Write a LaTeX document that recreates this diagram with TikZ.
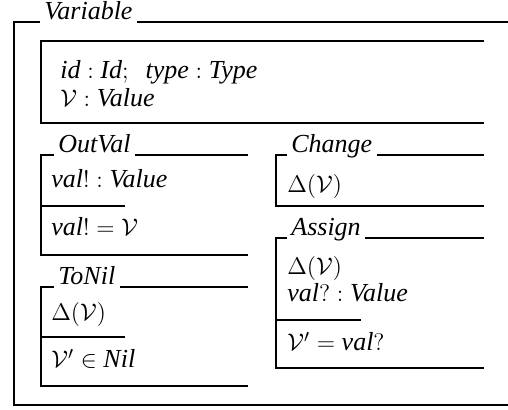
\documentclass[tikz,border=0pt]{standalone}
\usepackage[no-math]{fontspec}
\setmainfont{Liberation Serif}
\newcommand\zid[1]{\textit{#1}}
\begin{document}
\begin{tikzpicture}[x=0.5pt,y=-0.5pt,
  rule/.style={line width=1pt},
  ttl/.style={anchor=base west,inner xsep=2pt,inner ysep=0pt,font=\fontsize{13}{15}\selectfont\itshape},
  txt/.style={anchor=base west,inner sep=0pt,font=\fontsize{13}{15}\selectfont}]
\useasboundingbox (0,0) rectangle (508,410);

% class frame: Variable
\node[ttl] (cls) at (40,20) {Variable};
\coordinate (clsTL) at (14,22);
\draw[rule] (cls.west |- clsTL) -- (clsTL) -- (14,405) -- (508,405);
\draw[rule] (cls.east |- clsTL) -- (508,22);

% state schema
\draw[rule] (484,41) -- (41,41) -- (41,123) -- (484,123);
\node[txt] (st1) at (60,79) {$\zid{id} : \zid{Id};\ \ \zid{type} : \zid{Type}$};
\node[txt] (st2) at (60,107) {$\mathcal{V} : \zid{Value}$};

% OutVal
\node[ttl] (ov) at (54,153) {OutVal};
\coordinate (ovT) at (41,155);
\draw[rule] (ov.west |- ovT) -- (ovT) -- (41,255) -- (248,255);
\draw[rule] (ov.east |- ovT) -- (248,155);
\draw[rule] (41,206) -- (125,206);
\node[txt] (ov1) at (51,188) {$\zid{val}! : \zid{Value}$};
\node[txt] (ov2) at (51,236) {$\zid{val}! = \mathcal{V}$};

% ToNil
\node[ttl] (tn) at (54,285) {ToNil};
\coordinate (tnT) at (41,287);
\draw[rule] (tn.west |- tnT) -- (tnT) -- (41,386) -- (248,386);
\draw[rule] (tn.east |- tnT) -- (248,287);
\draw[rule] (41,337) -- (125,337);
\node[txt] (tn1) at (51,321) {$\Delta(\mathcal{V})$};
\node[txt] (tn2) at (51,368) {$\mathcal{V}' \in \zid{Nil}$};

% Change
\node[ttl] (ch) at (287,153) {Change};
\coordinate (chT) at (276,155);
\draw[rule] (ch.west |- chT) -- (chT) -- (276,206) -- (484,206);
\draw[rule] (ch.east |- chT) -- (484,155);
\node[txt] (ch1) at (287,193) {$\Delta(\mathcal{V})$};

% Assign
\node[ttl] (as) at (287,236) {Assign};
\coordinate (asT) at (276,238);
\draw[rule] (as.west |- asT) -- (asT) -- (276,368) -- (484,368);
\draw[rule] (as.east |- asT) -- (484,238);
\draw[rule] (276,320) -- (361,320);
\node[txt] (as1) at (287,275) {$\Delta(\mathcal{V})$};
\node[txt] (as2) at (287,302) {$\zid{val}? : \zid{Value}$};
\node[txt] (as3) at (287,351) {$\mathcal{V}' = \zid{val}?$};
\end{tikzpicture}
\end{document}
